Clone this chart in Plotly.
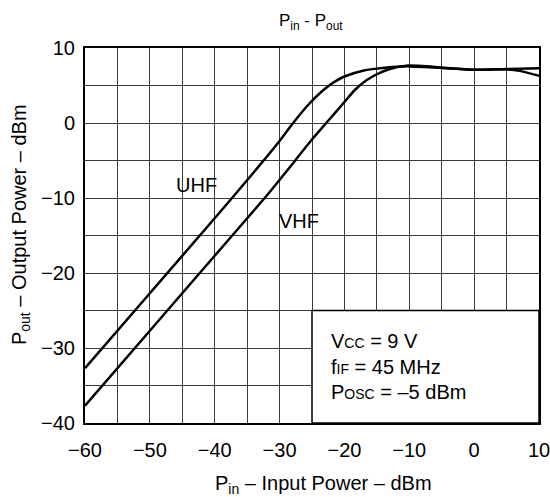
import plotly.graph_objects as go

# Data
uhf_x = [-60, -50, -40, -34, -30, -28, -25.5, -23.5, -21.7, -20, -17, -15, -12, -10, -5, 0, 5, 7, 10]
uhf_y = [-32.7, -22.7, -12.7, -6.6, -2.4, -0.1, 2.5, 4.2, 5.4, 6.2, 7.0, 7.25, 7.5, 7.55, 7.35, 7.1, 7.15, 6.95, 6.3]

vhf_x = [-60, -50, -40, -32, -28.8, -25.1, -22.8, -20.2, -18.4, -16.6, -15, -13, -10.5, -8, -5, 0, 5, 10]
vhf_y = [-37.7, -27.7, -17.7, -9.7, -6.3, -2.3, 0.0, 2.6, 4.4, 5.7, 6.5, 7.2, 7.65, 7.6, 7.4, 7.1, 7.2, 7.3]

x_ticks = [-60, -50, -40, -30, -20, -10, 0, 10]
y_ticks = [-40, -30, -20, -10, 0, 10]
x_minor = [-55, -45, -35, -25, -15, -5, 5]
y_minor = [-35, -25, -15, -5, 5]

FONT = "Liberation Sans, Arial, sans-serif"
GRID = "#3a3a3a"

fig = go.Figure()
for xs, ys in [(uhf_x, uhf_y), (vhf_x, vhf_y)]:
    fig.add_trace(go.Scatter(x=xs, y=ys, mode="lines",
                             line=dict(color="black", width=2.5, shape="spline", smoothing=0.6),
                             showlegend=False, hoverinfo="skip"))

# white condition box (hides grid in lower-right)
fig.add_shape(type="rect", x0=-25, x1=10, y0=-40, y1=-25, xref="x", yref="y",
              fillcolor="white", line=dict(color="black", width=1.5), layer="between")

axis_common = dict(showgrid=True, gridcolor=GRID, gridwidth=1, automargin=False,
                   showline=True, linecolor="black", linewidth=2, mirror=True,
                   zeroline=False, ticks="", tickmode="array", ticklabeloverflow="allow",
                   tickfont=dict(family=FONT, size=20, color="black"))

fig.update_xaxes(range=[-60, 10], tickvals=x_ticks, ticklabelstandoff=8,
                 minor=dict(tickvals=x_minor, showgrid=True, gridcolor=GRID, gridwidth=1, ticks=""),
                 **axis_common)
fig.update_yaxes(range=[-40, 10], tickvals=y_ticks, ticklabelstandoff=4,
                 minor=dict(tickvals=y_minor, showgrid=True, gridcolor=GRID, gridwidth=1, ticks=""),
                 **axis_common)

ann = []
ann.append(dict(text="P<sub>in</sub> - P<sub>out</sub>", xref="paper", yref="paper", x=0.498, y=1.069,
                showarrow=False, font=dict(family=FONT, size=17, color="black"), xanchor="center", yanchor="middle"))
ann.append(dict(text="P<sub>in</sub> – Input Power – dBm", xref="paper", yref="paper", x=0.526, y=-0.165,
                showarrow=False, font=dict(family=FONT, size=20, color="black"), xanchor="center", yanchor="middle"))
ann.append(dict(text="P<sub>out</sub> – Output Power – dBm", xref="paper", yref="paper", x=-0.143, y=0.528,
                textangle=-90, showarrow=False, font=dict(family=FONT, size=20, color="black"),
                xanchor="center", yanchor="middle"))
ann.append(dict(text="UHF", x=-42.85, y=-8.2, xref="x", yref="y", showarrow=False,
                font=dict(family=FONT, size=20, color="black")))
ann.append(dict(text="VHF", x=-27.0, y=-13.0, xref="x", yref="y", showarrow=False,
                font=dict(family=FONT, size=20, color="black")))
box_lines = [
    ("V<span style='font-size:14px'>CC</span> = 9 V", -29.07),
    ("f<span style='font-size:14px'>IF</span> = 45 MHz", -32.5),
    ("P<span style='font-size:14px'>OSC</span> = –5 dBm", -35.83),
]
for t, yy in box_lines:
    ann.append(dict(text=t, x=-22.36, y=yy, xref="x", yref="y", showarrow=False,
                    xanchor="left", yanchor="middle", font=dict(family=FONT, size=20, color="black")))

fig.update_layout(width=550, height=497, margin=dict(l=85, r=11, t=48, b=74),
                  paper_bgcolor="white", plot_bgcolor="white", annotations=ann,
                  font=dict(family=FONT, color="black"))

fig.write_html("out.html")
